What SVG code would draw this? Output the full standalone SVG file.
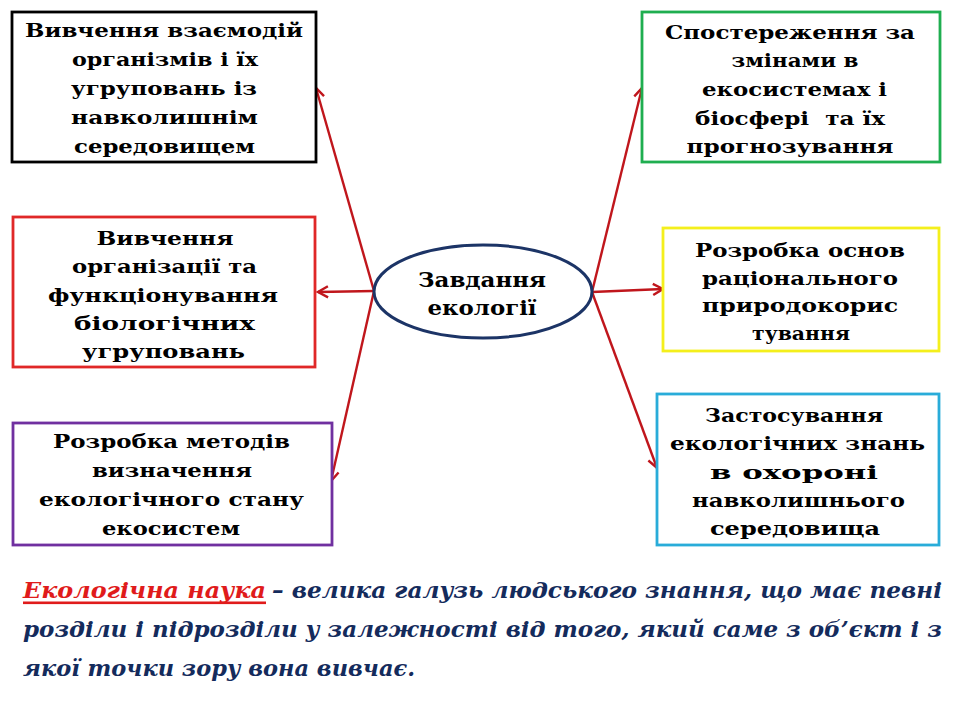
<svg xmlns="http://www.w3.org/2000/svg" width="960" height="720" viewBox="0 0 960 720" font-family="DejaVu Serif, serif">
<style>
.box{fill:#ffffff;stroke-width:2.8}
.t{font-weight:700;font-size:18px;fill:#000;text-anchor:middle}
.c{font-weight:700;font-size:20.5px;fill:#000;text-anchor:middle}
.b{font-weight:700;font-style:italic;font-size:22px;fill:#142b5c}
.conn{stroke:#c0161c;stroke-width:2.4;fill:none}
</style>
<defs>
<marker id="ah" markerUnits="userSpaceOnUse" markerWidth="20" markerHeight="20" refX="0" refY="0" viewBox="-12 -10 14 20" orient="auto">
<path d="M -10 -5.5 L 0 0 L -10 5.5" fill="none" stroke="#c0161c" stroke-width="2.4"/>
</marker>
</defs>
<rect width="960" height="720" fill="#ffffff"/>

<g id="connectors">
<line class="conn" x1="374" y1="291" x2="316" y2="88" marker-end="url(#ah)"/>
<line class="conn" x1="374" y1="291" x2="318" y2="292" marker-end="url(#ah)"/>
<line class="conn" x1="374" y1="291" x2="331" y2="481" marker-end="url(#ah)"/>
<line class="conn" x1="592" y1="292" x2="642" y2="88" marker-end="url(#ah)"/>
<line class="conn" x1="592" y1="292" x2="663" y2="289" marker-end="url(#ah)"/>
<line class="conn" x1="592" y1="292" x2="657" y2="468" marker-end="url(#ah)"/>
</g>

<g id="center">
<ellipse cx="483" cy="291.5" rx="109" ry="46.5" fill="#ffffff" stroke="#1c3466" stroke-width="3"/>
<text class="c" x="482" y="287" textLength="128" lengthAdjust="spacingAndGlyphs">Завдання</text>
<text class="c" x="482" y="315" textLength="109" lengthAdjust="spacingAndGlyphs">екології</text>
</g>

<g id="box1">
<rect class="box" x="12" y="12" width="304" height="150" stroke="#000000"/>
<text class="t" x="164" y="37" textLength="278" lengthAdjust="spacingAndGlyphs">Вивчення взаємодій</text>
<text class="t" x="165" y="66" textLength="186" lengthAdjust="spacingAndGlyphs">організмів і їх</text>
<text class="t" x="164" y="95" textLength="186" lengthAdjust="spacingAndGlyphs">угруповань із</text>
<text class="t" x="164.5" y="124" textLength="187" lengthAdjust="spacingAndGlyphs">навколишнім</text>
<text class="t" x="164.5" y="153" textLength="181" lengthAdjust="spacingAndGlyphs">середовищем</text>
</g>

<g id="box2">
<rect class="box" x="13" y="217" width="302" height="150" stroke="#e02828"/>
<text class="t" x="165" y="245" textLength="137" lengthAdjust="spacingAndGlyphs">Вивчення</text>
<text class="t" x="164.5" y="273" textLength="185" lengthAdjust="spacingAndGlyphs">організації та</text>
<text class="t" x="163" y="302" textLength="230" lengthAdjust="spacingAndGlyphs">функціонування</text>
<text class="t" x="164.5" y="330" textLength="181" lengthAdjust="spacingAndGlyphs">біологічних</text>
<text class="t" x="163.5" y="358" textLength="163" lengthAdjust="spacingAndGlyphs">угруповань</text>
</g>

<g id="box3">
<rect class="box" x="13" y="423" width="319" height="122" stroke="#7030a0"/>
<text class="t" x="171.5" y="448" textLength="237" lengthAdjust="spacingAndGlyphs">Розробка методів</text>
<text class="t" x="172" y="477" textLength="160" lengthAdjust="spacingAndGlyphs">визначення</text>
<text class="t" x="171.5" y="506" textLength="265" lengthAdjust="spacingAndGlyphs">екологічного стану</text>
<text class="t" x="171" y="535" textLength="138" lengthAdjust="spacingAndGlyphs">екосистем</text>
</g>

<g id="box4">
<rect class="box" x="642" y="12" width="298" height="150" stroke="#1fae50"/>
<text class="t" x="790" y="39" textLength="250" lengthAdjust="spacingAndGlyphs">Спостереження за</text>
<text class="t" x="795" y="67" textLength="127" lengthAdjust="spacingAndGlyphs">змінами в</text>
<text class="t" x="794.5" y="96" textLength="185" lengthAdjust="spacingAndGlyphs">екосистемах і</text>
<text class="t" x="790" y="124.5" textLength="190" lengthAdjust="spacingAndGlyphs" xml:space="preserve">біосфері  та їх</text>
<text class="t" x="790" y="153" textLength="207" lengthAdjust="spacingAndGlyphs">прогнозування</text>
</g>

<g id="box5">
<rect class="box" x="663" y="228" width="276" height="123" stroke="#f4ef1c"/>
<text class="t" x="800" y="257" textLength="210" lengthAdjust="spacingAndGlyphs">Розробка основ</text>
<text class="t" x="800" y="285" textLength="196" lengthAdjust="spacingAndGlyphs">раціонального</text>
<text class="t" x="800" y="312" textLength="196" lengthAdjust="spacingAndGlyphs">природокорис</text>
<text class="t" x="801" y="340" textLength="98" lengthAdjust="spacingAndGlyphs">тування</text>
</g>

<g id="box6">
<rect class="box" x="657" y="394" width="282" height="151" stroke="#29acd9"/>
<text class="t" x="794" y="422" textLength="178" lengthAdjust="spacingAndGlyphs">Застосування</text>
<text class="t" x="797.5" y="450" textLength="255" lengthAdjust="spacingAndGlyphs">екологічних знань</text>
<text class="t" x="794" y="478.5" textLength="168" lengthAdjust="spacingAndGlyphs">в охороні</text>
<text class="t" x="798.5" y="507" textLength="213" lengthAdjust="spacingAndGlyphs">навколишнього</text>
<text class="t" x="795" y="535" textLength="170" lengthAdjust="spacingAndGlyphs">середовища</text>
</g>

<g id="definition">
<text class="b" x="23" y="598" textLength="243" lengthAdjust="spacingAndGlyphs" style="fill:#e01b1b">Екологічна наука</text>
<rect x="23" y="601.5" width="243" height="2.6" fill="#e01b1b"/>
<text class="b" x="272" y="598" textLength="670" lengthAdjust="spacingAndGlyphs">– велика галузь людського знання, що має певні</text>
<text class="b" x="23" y="637" textLength="919" lengthAdjust="spacingAndGlyphs">розділи і підрозділи у залежності від того, який саме з об’єкт і з</text>
<text class="b" x="23" y="676" textLength="392" lengthAdjust="spacingAndGlyphs">якої точки зору вона вивчає.</text>
</g>
</svg>
